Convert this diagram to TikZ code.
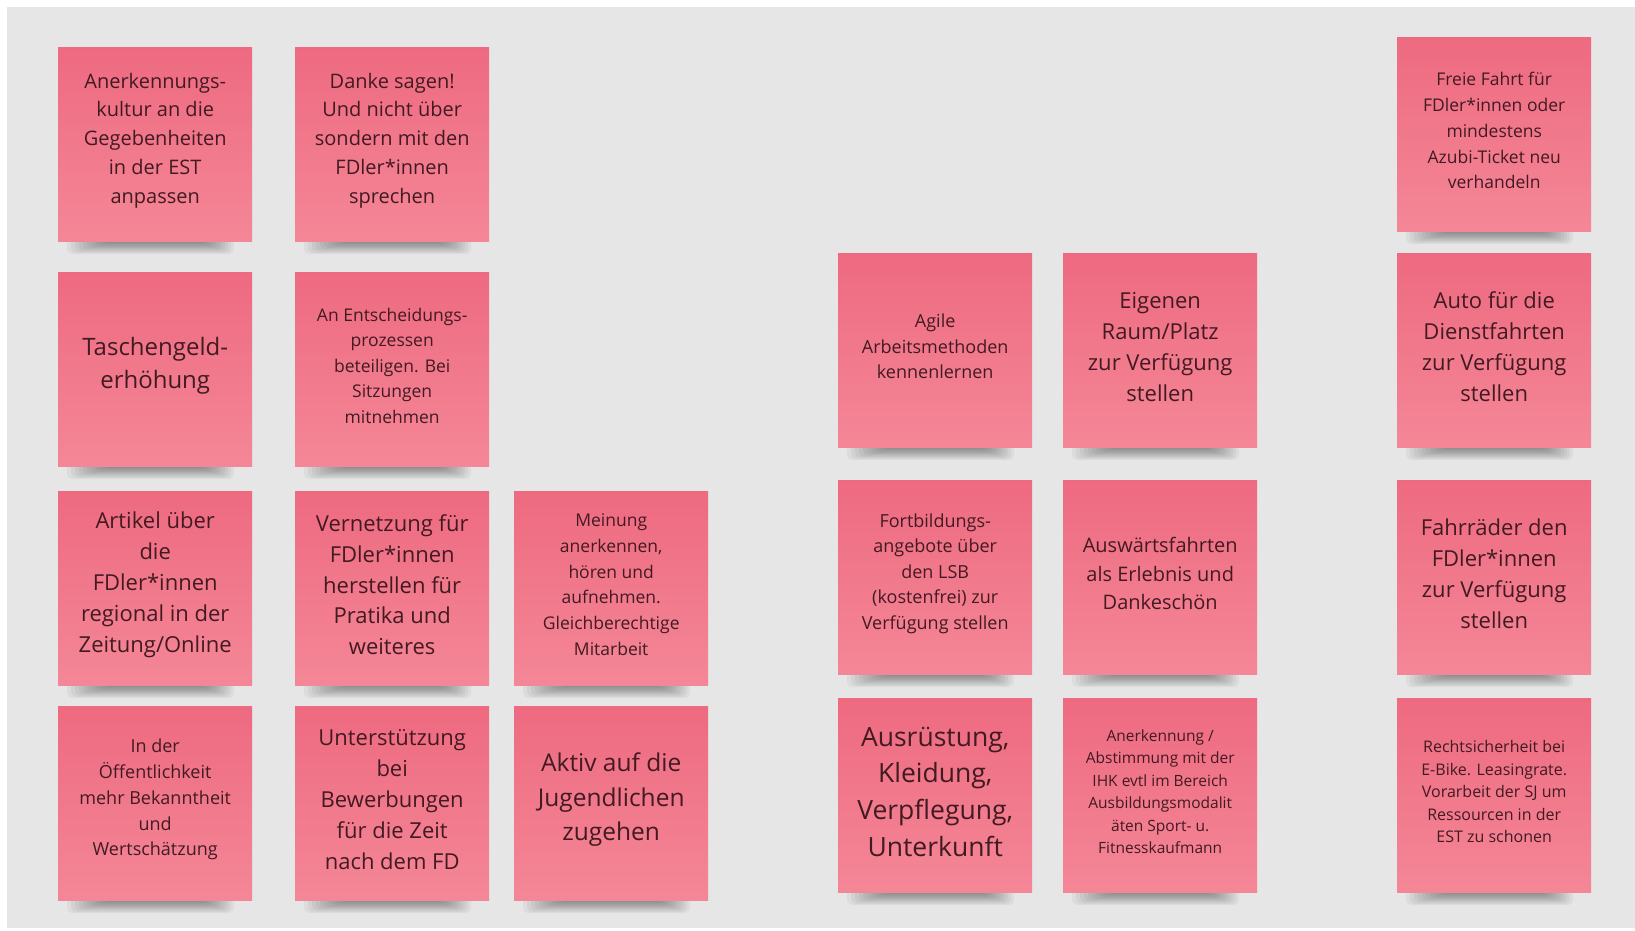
\documentclass[tikz,border=0pt]{standalone}
\usepackage{fontspec}
\setmainfont{Open Sans}
\definecolor{bgc}{HTML}{E6E6E6}
\definecolor{stickytop}{HTML}{EE6A80}
\definecolor{stickybot}{HTML}{F48797}
\definecolor{txt}{HTML}{421A22}
\tikzset{
  stickybox/.style={rectangle, minimum width=194pt, minimum height=194pt, inner sep=0pt,
    top color=stickytop, bottom color=stickybot, draw=none, anchor=north west},
  stickytext/.style={align=center, text=txt, inner sep=0pt},
  shadowlayer/.style={fill=black, opacity=0.045, rounded corners=5pt}
}
\newcommand\sticky[6]{%
  \foreach \i in {0,...,9} {
    \fill[shadowlayer] ({#2+9+4*\i},{#3+186}) rectangle ({#2+176-3*\i},{#3+207-1.2*\i});
  }
  \node[stickybox] (#1) at (#2,#3) {};
  \node[stickytext, font=\fontsize{#4}{#5}\selectfont] (#1t) at ([yshift=3.5pt]#1.center) {#6};
}
\begin{document}
\begin{tikzpicture}[x=1pt,y=-1pt]
\useasboundingbox (0,0) rectangle (1635,931);
\fill[white] (0,0) rectangle (1635,931);
\fill[bgc] (7,7) rectangle (1635,928);
% left group
\sticky{a1}{58}{47}{20}{28.9}{Anerkennungs-\\kultur an die\\Gegebenheiten\\in der EST\\anpassen}
\sticky{a2}{295}{47}{20}{28.9}{Danke sagen!\\Und nicht über\\sondern mit den\\FDler*innen\\sprechen}
\sticky{b1}{58}{272}{24}{33.4}{Taschengeld-\\erhöhung}
\sticky{b2}{295}{272}{17.5}{25.6}{An Entscheidungs-\\prozessen\\beteiligen. Bei\\Sitzungen\\mitnehmen}
\sticky{c1}{58}{491}{22}{30.8}{Artikel über\\die\\FDler*innen\\regional in der\\Zeitung/Online}
\sticky{c2}{295}{491}{22}{30.8}{Vernetzung für\\FDler*innen\\herstellen für\\Pratika und\\weiteres}
\sticky{c3}{514}{491}{17.5}{25.7}{Meinung\\anerkennen,\\hören und\\aufnehmen.\\Gleichberechtige\\Mitarbeit}
\sticky{d1}{58}{706}{18}{25.7}{In der\\Öffentlichkeit\\mehr Bekanntheit\\und\\Wertschätzung}
\sticky{d2}{295}{706}{22}{31}{Unterstützung\\bei\\Bewerbungen\\für die Zeit\\nach dem FD}
\sticky{d3}{514}{706}{24.5}{34.4}{Aktiv auf die\\Jugendlichen\\zugehen}
% right group
\sticky{e2}{838}{253}{18}{25.5}{Agile\\Arbeitsmethoden\\kennenlernen}
\sticky{f2}{1063}{253}{22}{31}{Eigenen\\Raum/Platz\\zur Verfügung\\stellen}
\sticky{g1}{1397}{37}{17.5}{25.8}{Freie Fahrt für\\FDler*innen oder\\mindestens\\Azubi-Ticket neu\\verhandeln}
\sticky{g2}{1397}{253}{22}{31}{Auto für die\\Dienstfahrten\\zur Verfügung\\stellen}
\sticky{e3}{838}{480}{18}{25.6}{Fortbildungs-\\angebote über\\den LSB\\(kostenfrei) zur\\Verfügung stellen}
\sticky{f3}{1063}{480}{20}{28.7}{Auswärtsfahrten\\als Erlebnis und\\Dankeschön}
\sticky{g3}{1397}{480}{22}{31}{Fahrräder den\\FDler*innen\\zur Verfügung\\stellen}
\sticky{e4}{838}{698}{26.5}{36.8}{Ausrüstung,\\Kleidung,\\Verpflegung,\\Unterkunft}
\sticky{f4}{1063}{698}{15.5}{22.5}{Anerkennung /\\Abstimmung mit der\\IHK evtl im Bereich\\Ausbildungsmodalit\\äten Sport- u.\\Fitnesskaufmann}
\sticky{g4}{1397}{698}{16}{22.4}{Rechtsicherheit bei\\E-Bike. Leasingrate.\\Vorarbeit der SJ um\\Ressourcen in der\\EST zu schonen}
\end{tikzpicture}
\end{document}
